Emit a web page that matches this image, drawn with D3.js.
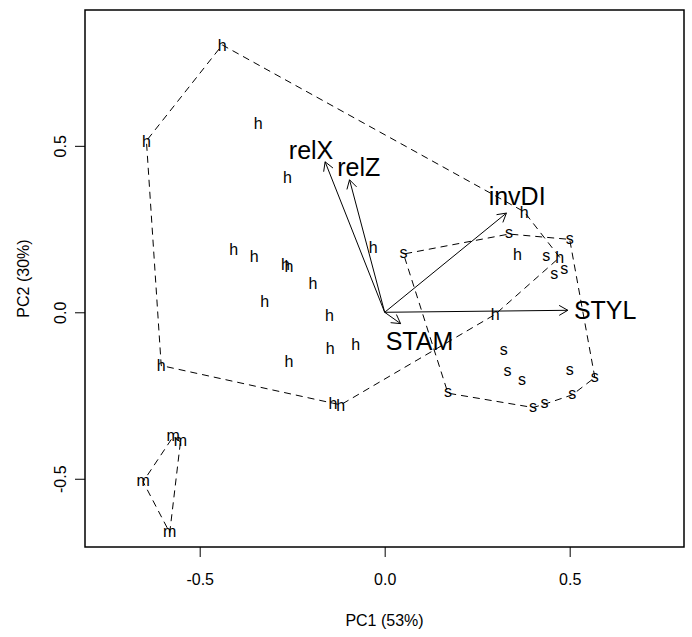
<!DOCTYPE html>
<html>
<head>
<meta charset="utf-8">
<script src="https://cdn.jsdelivr.net/npm/d3@7"></script>
<style>
  body { margin: 0; background: #fff; }
  svg { display: block; font-family: "Liberation Sans", Arial, Helvetica, sans-serif; }
</style>
</head>
<body>
<div id="chart"></div>
<script>
// group h
const hPC1 = [-0.439, -0.644, -0.342, -0.263, -0.408, -0.353, -0.268, -0.259, -0.194, -0.324, -0.149,
              -0.031, -0.604, -0.140, -0.119, -0.147, -0.078, -0.259, 0.377, 0.359, 0.473, 0.299];
const hPC2 = [0.803, 0.515, 0.567, 0.407, 0.189, 0.167, 0.145, 0.139, 0.087, 0.032, -0.008,
              0.194, -0.160, -0.273, -0.278, -0.108, -0.095, -0.146, 0.302, 0.175, 0.165, -0.006];
// group s
const sPC1 = [0.336, 0.500, 0.051, 0.437, 0.485, 0.458, 0.322, 0.332, 0.371, 0.500, 0.568, 0.171, 0.507, 0.432, 0.401];
const sPC2 = [0.235, 0.219, 0.175, 0.167, 0.127, 0.112, -0.115, -0.178, -0.206, -0.175, -0.196, -0.243, -0.248, -0.276, -0.286];
// group m
const mPC1 = [-0.572, -0.552, -0.653, -0.581];
const mPC2 = [-0.374, -0.389, -0.509, -0.662];

// variable loadings (arrow tips) and label positions
const varNames = ["relX", "relZ", "invDI", "STYL", "STAM"];
const loadPC1 = [-0.161, -0.095, 0.329, 0.495, 0.043];
const loadPC2 = [0.452, 0.398, 0.298, 0.006, -0.034];
const labPC1 = [-0.199, -0.070, 0.358, 0.596, 0.094];
const labPC2 = [0.486, 0.436, 0.350, 0.008, -0.086];

const xTicks = [-0.5, 0.0, 0.5];
const yTicks = [-0.5, 0.0, 0.5];
const xTitle = "PC1 (53%)";
const yTitle = "PC2 (30%)";

const W = 692, H = 637;
const box = { left: 85, right: 684, top: 10, bottom: 547 };

const x = d3.scaleLinear().domain([-0.81, 0.809]).range([box.left, box.right]);
const y = d3.scaleLinear().domain([-0.705, 0.908]).range([box.bottom, box.top]);

const svg = d3.select("#chart").append("svg")
    .attr("width", W)
    .attr("height", H);

const groups = [
    { lab: "h", pc1: hPC1, pc2: hPC2 },
    { lab: "s", pc1: sPC1, pc2: sPC2 },
    { lab: "m", pc1: mPC1, pc2: mPC2 }
];

// dashed hulls
groups.forEach(g => {
    const pts = g.pc1.map((v, i) => [x(v), y(g.pc2[i])]);
    const hull = d3.polygonHull(pts);
    svg.append("path")
        .attr("d", "M" + hull.join("L") + "Z")
        .attr("fill", "none")
        .attr("stroke", "#000")
        .attr("stroke-width", 1)
        .attr("stroke-dasharray", "7,5");
});

// point labels
groups.forEach(g => {
    svg.append("g").selectAll("text")
        .data(g.pc1.map((v, i) => ({ a: v, b: g.pc2[i] })))
        .enter().append("text")
        .attr("x", d => x(d.a))
        .attr("y", d => y(d.b))
        .attr("dy", g.lab === "h" ? "0.36em" : "0.26em")
        .attr("text-anchor", "middle")
        .style("font-size", "16px")
        .text(g.lab);
});

// arrows
const arrows = svg.append("g");
varNames.forEach((name, i) => {
    const x0 = x(0), y0 = y(0);
    const x1 = x(loadPC1[i]), y1 = y(loadPC2[i]);
    arrows.append("line")
        .attr("x1", x0).attr("y1", y0)
        .attr("x2", x1).attr("y2", y1)
        .attr("stroke", "#000").attr("stroke-width", 1);
    const ang = Math.atan2(y1 - y0, x1 - x0);
    const len = 10, spread = Math.PI / 6;
    const p1 = [x1 - len * Math.cos(ang - spread), y1 - len * Math.sin(ang - spread)];
    const p2 = [x1 - len * Math.cos(ang + spread), y1 - len * Math.sin(ang + spread)];
    arrows.append("path")
        .attr("d", `M${p1[0]},${p1[1]}L${x1},${y1}L${p2[0]},${p2[1]}`)
        .attr("fill", "none")
        .attr("stroke", "#000").attr("stroke-width", 1);
    arrows.append("text")
        .attr("x", x(labPC1[i]))
        .attr("y", y(labPC2[i]))
        .attr("dy", "0.36em")
        .attr("text-anchor", "middle")
        .style("font-size", "25px")
        .text(name);
});

// axes
const fmt = d => d.toFixed(1);
const xAxis = svg.append("g")
    .attr("transform", `translate(0,${box.bottom})`)
    .call(d3.axisBottom(x).tickValues(xTicks).tickSize(10).tickPadding(17).tickFormat(fmt));
const yAxis = svg.append("g")
    .attr("transform", `translate(${box.left},0)`)
    .call(d3.axisLeft(y).tickValues(yTicks).tickSize(10).tickFormat(fmt));

[xAxis, yAxis].forEach(a => {
    a.select(".domain").remove();
    a.selectAll("line").attr("stroke", "#000");
    a.selectAll("text").style("font-size", "16px").attr("fill", "#000").style("font-family", null);
});
yAxis.selectAll("text")
    .attr("text-anchor", "middle")
    .attr("dy", null)
    .attr("x", null)
    .attr("transform", "translate(-19,0) rotate(-90)");

// box
svg.append("rect")
    .attr("x", box.left).attr("y", box.top)
    .attr("width", box.right - box.left)
    .attr("height", box.bottom - box.top)
    .attr("fill", "none")
    .attr("stroke", "#000")
    .attr("stroke-width", 1.5);

// titles
svg.append("text")
    .attr("x", (box.left + box.right) / 2)
    .attr("y", 626)
    .attr("text-anchor", "middle")
    .style("font-size", "16px")
    .text(xTitle);

svg.append("text")
    .attr("transform", `translate(29,${(box.top + box.bottom) / 2}) rotate(-90)`)
    .attr("text-anchor", "middle")
    .style("font-size", "16px")
    .text(yTitle);
</script>
</body>
</html>
